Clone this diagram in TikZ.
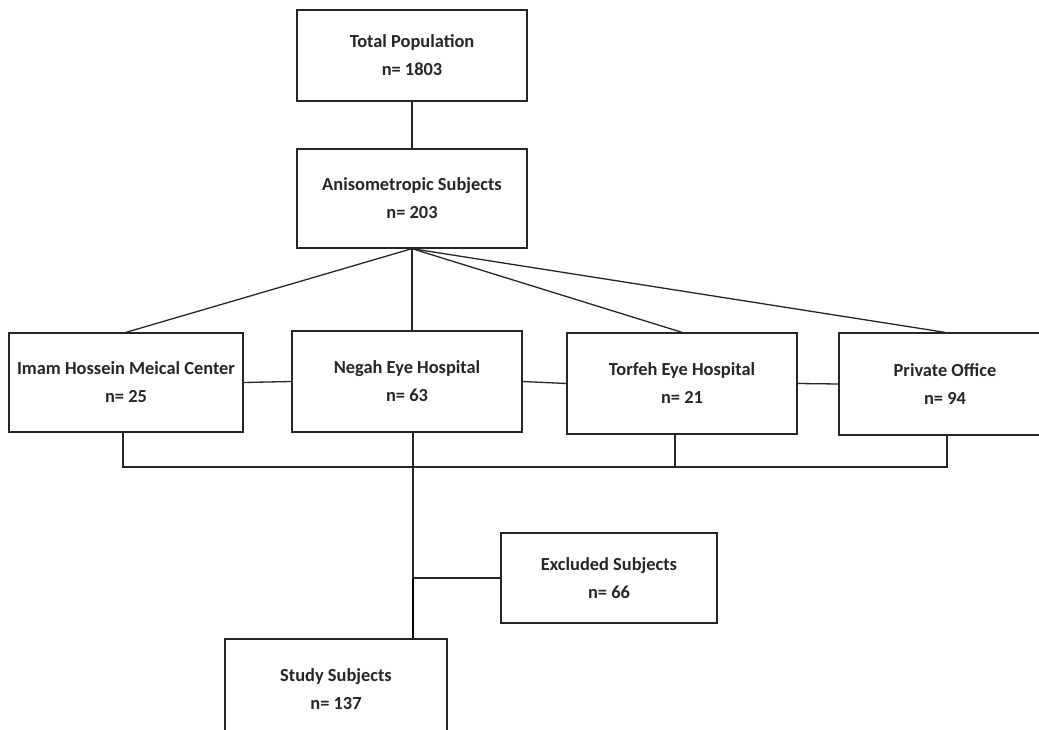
\documentclass[tikz,border=0pt]{standalone}
\usepackage{fontspec}
\setmainfont{Carlito}
\begin{document}
\begin{tikzpicture}[x=1pt,y=-1pt,
  flowbox/.style={draw=black!85, line width=1.3pt, rectangle, inner sep=0pt, align=center,
    font=\bfseries\fontsize{18.4}{28}\selectfont, text=black!85},
  link/.style={draw=black!85, line width=1.3pt},
  thicklink/.style={draw=black, line width=2.4pt}]
\clip (0,0) rectangle (1039,730);
\fill[white] (0,0) rectangle (1039,730);
\node[flowbox, minimum width=230pt, minimum height=91pt] (total) at (412,55.5) {Total Population\\n= 1803};
\node[flowbox, minimum width=230pt, minimum height=99pt] (aniso) at (412,198.5) {Anisometropic Subjects\\n= 203};
\node[flowbox, minimum width=234pt, minimum height=99pt] (imam) at (126,382.5) {Imam Hossein Meical Center\\n= 25};
\node[flowbox, minimum width=230pt, minimum height=101pt] (negah) at (407,381.5) {Negah Eye Hospital\\n= 63};
\node[flowbox, minimum width=230pt, minimum height=101pt] (torfeh) at (682,383.5) {Torfeh Eye Hospital\\n= 21};
\node[flowbox, minimum width=212pt, minimum height=102pt] (private) at (945,384) {Private Office\\n= 94};
\node[flowbox, minimum width=216pt, minimum height=90pt] (excluded) at (609,578) {Excluded Subjects\\n= 66};
\node[flowbox, minimum width=222pt, minimum height=101pt] (study) at (336,689.5) {Study Subjects\\n= 137};
% top links
\draw[link] (total) -- (aniso);
\draw[link] (aniso.south) -- (imam.north);
\draw[link] (aniso.south) -- (aniso.south |- negah.north);
\draw[link] (aniso.south) -- (torfeh.north);
\draw[link] (aniso.south) -- (private.north);
% side links
\draw[link] (imam.east) -- (negah.west);
\draw[link] (negah.east) -- (torfeh.west);
\draw[link] (torfeh.east) -- (private.west);
% bottom bus
\coordinate (busL) at (123,467);
\coordinate (busR) at (947,467);
\coordinate (junc) at (413,578);
\draw[link] (imam.south -| busL) -- (busL) -- (busR) -- (private.south -| busR);
\draw[link] (torfeh.south -| 675,0) -- (675,467);
\draw[link] (413,432) -- (junc);
\draw[link] (junc) -- (excluded.west);
\draw[thicklink] (junc) -- (study.north -| junc);
\end{tikzpicture}
\end{document}
